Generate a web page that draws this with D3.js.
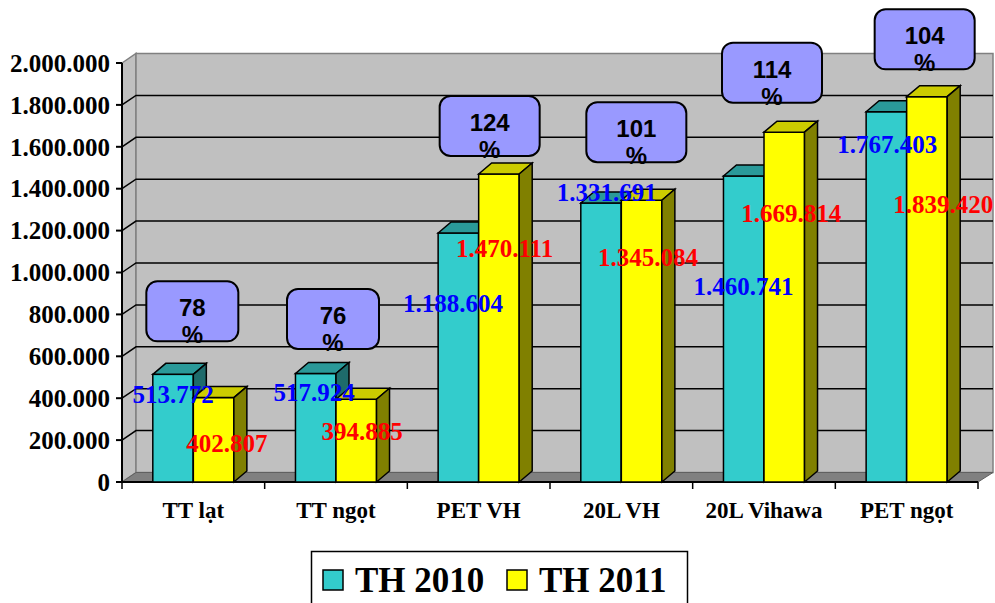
<!DOCTYPE html>
<html>
<head>
<meta charset="utf-8">
<script src="https://d3js.org/d3.v7.min.js"></script>
<style>
  body { margin: 0; background: #fff; }
  svg { display: block; }
  .serif { font-family: "Times New Roman", "Liberation Serif", serif; font-weight: bold; }
  .sans { font-family: Arial, "Liberation Sans", sans-serif; font-weight: bold; }
</style>
</head>
<body>
<script>
// data
var categories = ['TT lạt', 'TT ngọt', 'PET VH', '20L VH', '20L Vihawa', 'PET ngọt'];
var th2010 = [513772, 517924, 1188604, 1331691, 1460741, 1767403];
var th2011 = [402807, 394885, 1470111, 1345084, 1669814, 1839420];
var seriesNames = ['TH 2010', 'TH 2011'];
var yTickValues = [0, 200000, 400000, 600000, 800000, 1000000, 1200000, 1400000, 1600000, 1800000, 2000000];

var W = 995, H = 603;
var pLeft = 122, pRight = 978, pTop = 63, pBottom = 482;
var WX = 14, WY = 9.5;   // wall depth
var BX = 13, BY = 11;    // bar depth

var colors = {
  front: ['#33cccc', '#ffff00'],
  top:   ['#2a9999', '#cccc00'],
  side:  ['#1e6b6b', '#808000']
};

// hand placed data labels / callouts (pixel nudges, like the original)
var blueNudge = [[0, 28.6], [-1.7, 28], [-5.3, 79], [5.7, -2.3], [-0.3, 119], [0.8, 41.6]];
var redNudge = [[13.4, 54], [5.8, 40.7], [5.7, 82.7], [6.5, 65.5], [7, 89.5], [16.3, 116.7]];
var boxNudge = [[-1, 33], [-3, 24.5], [11, 18], [15, 38], [8, 29.5], [18, 27.3]];

var svg = d3.select('body').append('svg')
  .attr('width', W).attr('height', H);

var x0 = d3.scaleBand().domain(categories).range([pLeft, pRight]).padding(0);
var x1 = d3.scaleBand().domain(seriesNames).range([0, x0.bandwidth()])
  .paddingInner(0).paddingOuter(0.76);
var y = d3.scaleLinear().domain([0, 2000000]).range([pBottom, pTop]);

var fmt = function (v) { return d3.format(',')(v).replace(/,/g, '.'); };

// walls
var wallRight = pRight + 15;
svg.append('path')
  .attr('d', 'M' + pLeft + ',' + pTop + 'L' + (pLeft + WX) + ',' + (pTop - WY) +
    'L' + (pLeft + WX) + ',' + (pBottom - WY) + 'L' + pLeft + ',' + pBottom + 'Z')
  .attr('fill', '#c0c0c0').attr('stroke', '#808080').attr('stroke-width', 1.5);
svg.append('rect')
  .attr('x', pLeft + WX).attr('y', pTop - WY)
  .attr('width', wallRight - pLeft - WX).attr('height', pBottom - pTop)
  .attr('fill', '#c0c0c0').attr('stroke', '#808080').attr('stroke-width', 1.5);

// gridlines
svg.selectAll('.grid')
  .data(yTickValues.filter(function (v) { return v > 0 && v < 2000000; }))
  .enter().append('path')
  .attr('d', function (v) {
    var yy = y(v);
    return 'M' + pLeft + ',' + yy + 'L' + (pLeft + WX) + ',' + (yy - WY) + 'L' + wallRight + ',' + (yy - WY);
  })
  .attr('fill', 'none').attr('stroke', '#000').attr('stroke-width', 1.5);

// floor
svg.append('path')
  .attr('d', 'M' + pLeft + ',' + pBottom + 'L' + (pLeft + WX) + ',' + (pBottom - WY) +
    'L' + wallRight + ',' + (pBottom - WY) + 'L' + pRight + ',' + pBottom + 'Z')
  .attr('fill', '#808080').attr('stroke', '#606060').attr('stroke-width', 1);

// y axis
svg.append('line').attr('x1', pLeft).attr('x2', pLeft).attr('y1', pTop).attr('y2', pBottom)
  .attr('stroke', '#000').attr('stroke-width', 2);
var yt = svg.selectAll('.ytick').data(yTickValues).enter().append('g');
yt.append('line')
  .attr('x1', pLeft - 6).attr('x2', pLeft)
  .attr('y1', function (v) { return y(v); }).attr('y2', function (v) { return y(v); })
  .attr('stroke', '#000').attr('stroke-width', 2);
yt.append('text')
  .attr('class', 'serif')
  .attr('x', 110).attr('y', function (v) { return y(v); })
  .attr('dy', '0.35em')
  .attr('text-anchor', 'end')
  .attr('font-size', 25)
  .text(function (v) { return fmt(v); });

// x axis
svg.append('line').attr('x1', pLeft).attr('x2', pRight).attr('y1', pBottom).attr('y2', pBottom)
  .attr('stroke', '#000').attr('stroke-width', 2);
svg.selectAll('.xtick').data(categories.concat(['end'])).enter().append('line')
  .attr('x1', function (d, i) { return pLeft + i * x0.step(); })
  .attr('x2', function (d, i) { return pLeft + i * x0.step(); })
  .attr('y1', pBottom).attr('y2', pBottom + 7)
  .attr('stroke', '#000').attr('stroke-width', 1.5);
svg.selectAll('.xlab').data(categories).enter().append('text')
  .attr('class', 'serif')
  .attr('x', function (d) { return x0(d) + x0.bandwidth() / 2; })
  .attr('y', 518)
  .attr('text-anchor', 'middle')
  .attr('font-size', 23)
  .text(function (d) { return d; });

// bars
var series = [th2010, th2011];
categories.forEach(function (cat, i) {
  series.forEach(function (vals, s) {
    var bx = x0(cat) + x1(seriesNames[s]);
    var bw = x1.bandwidth();
    var by = y(vals[i]);
    var g = svg.append('g');
    g.append('rect')
      .attr('x', bx).attr('y', by).attr('width', bw).attr('height', pBottom - by)
      .attr('fill', colors.front[s]).attr('stroke', '#000').attr('stroke-width', 1.5);
    g.append('path')
      .attr('d', 'M' + bx + ',' + by + 'L' + (bx + BX) + ',' + (by - BY) + 'L' + (bx + bw + BX) + ',' + (by - BY) +
        'L' + (bx + bw) + ',' + by + 'Z')
      .attr('fill', colors.top[s]).attr('stroke', '#000').attr('stroke-width', 1.5);
    g.append('path')
      .attr('d', 'M' + (bx + bw) + ',' + by + 'L' + (bx + bw + BX) + ',' + (by - BY) +
        'L' + (bx + bw + BX) + ',' + (pBottom - BY) + 'L' + (bx + bw) + ',' + pBottom + 'Z')
      .attr('fill', colors.side[s]).attr('stroke', '#000').attr('stroke-width', 1.5);
  });
});

// percentage callouts
categories.forEach(function (cat, i) {
  var pct = Math.round(th2011[i] / th2010[i] * 100);
  var digits = String(pct).length;
  var bwid = 76 + 8 * digits, bht = 60;
  var cx = x0(cat) + x0.bandwidth() / 2 + boxNudge[i][0];
  var btop = y(Math.max(th2010[i], th2011[i])) - boxNudge[i][1] - bht;
  svg.append('rect')
    .attr('x', cx - bwid / 2).attr('y', btop).attr('width', bwid).attr('height', bht)
    .attr('rx', 11).attr('ry', 11)
    .attr('fill', '#9999ff').attr('stroke', '#000').attr('stroke-width', 2);
  svg.append('text').attr('class', 'sans')
    .attr('x', cx).attr('y', btop + 35).attr('text-anchor', 'middle').attr('font-size', 24)
    .text(pct);
  svg.append('text').attr('class', 'sans')
    .attr('x', cx).attr('y', btop + 62).attr('text-anchor', 'middle').attr('font-size', 24)
    .text('%');
});

// value labels
categories.forEach(function (cat, i) {
  var bw = x1.bandwidth();
  var c0 = x0(cat) + x1(seriesNames[0]) + bw / 2;
  var c1 = x0(cat) + x1(seriesNames[1]) + bw / 2;
  svg.append('text').attr('class', 'serif')
    .attr('x', c0 + blueNudge[i][0]).attr('y', y(th2010[i]) + blueNudge[i][1])
    .attr('text-anchor', 'middle').attr('font-size', 25).attr('fill', '#0000ff')
    .text(fmt(th2010[i]));
  svg.append('text').attr('class', 'serif')
    .attr('x', c1 + redNudge[i][0]).attr('y', y(th2011[i]) + redNudge[i][1])
    .attr('text-anchor', 'middle').attr('font-size', 25).attr('fill', '#ff0000')
    .text(fmt(th2011[i]));
});

// legend
var lg = svg.append('g');
lg.append('rect')
  .attr('x', 311.5).attr('y', 551.5).attr('width', 376).attr('height', 70)
  .attr('fill', '#fff').attr('stroke', '#000').attr('stroke-width', 1.5);
var lx = [323, 507];
seriesNames.forEach(function (name, s) {
  lg.append('rect')
    .attr('x', lx[s]).attr('y', 570).attr('width', 20).attr('height', 20)
    .attr('fill', colors.front[s]).attr('stroke', '#000').attr('stroke-width', 1.5);
  lg.append('text').attr('class', 'serif')
    .attr('x', lx[s] + 32).attr('y', 592).attr('font-size', 35)
    .text(name);
});
</script>
</body>
</html>
